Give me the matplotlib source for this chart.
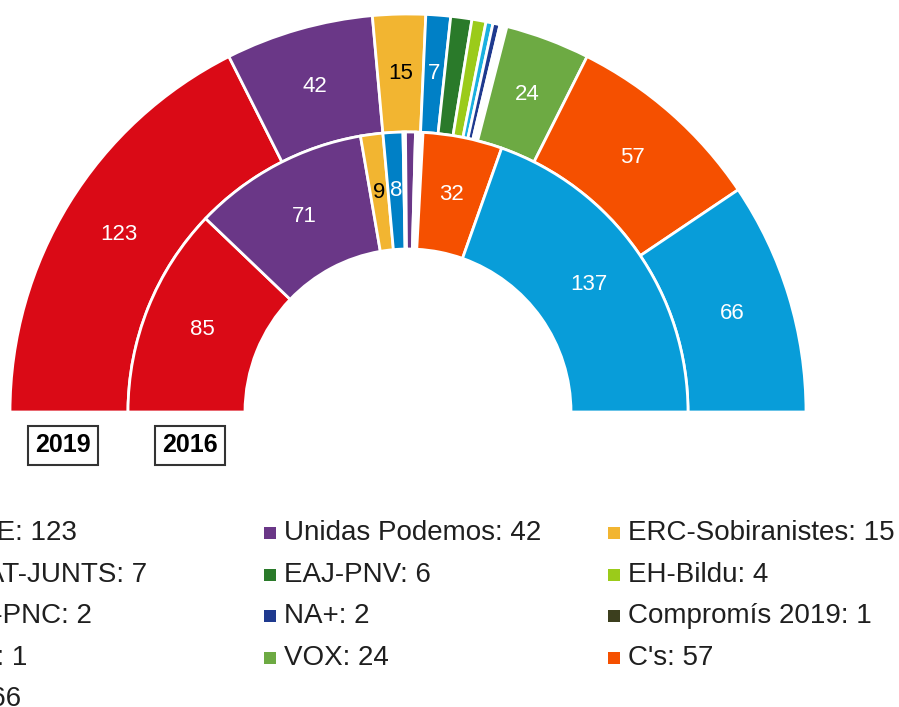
import numpy as np
import matplotlib
matplotlib.use('Agg')
import matplotlib.pyplot as plt
from matplotlib.patches import Rectangle

plt.rcParams['font.family'] = ['Liberation Sans', 'DejaVu Sans']

# 2019 results (outer ring + legend)
parties = ['PSOE', 'Unidas Podemos', 'ERC-Sobiranistes', 'JxCAT-JUNTS', 'EAJ-PNV',
           'EH-Bildu', 'CCa-PNC', 'NA+', 'Compromís 2019', 'PRC', 'VOX', "C's", 'PP']
seats_2019 = [123, 42, 15, 7, 6, 4, 2, 2, 1, 1, 24, 57, 66]
party_colors = ['#DA0A16', '#6A3787', '#F2B531', '#0080C6', '#2A7A2A',
                '#9BCB1A', '#1AB0E0', '#1F3A8F', '#3C3F1E', '#F2A0A0',
                '#6DAA43', '#F55000', '#089DD9']
# slices drawn without fill in the outer ring
hidden_2019 = ['Compromís 2019', 'PRC']

# 2016 results (inner ring)
seats_2016 = [85, 71, 9, 8, 1, 4, 3, 32, 137]
colors_2016 = ['#DA0A16', '#6A3787', '#F2B531', '#0080C6', 'white',
               '#6A3787', 'white', '#F55000', '#089DD9']
show_2016 = [True, True, True, True, False, False, False, True, True]

dark_label = ['#F2B531']  # fills that take a black label

fig = plt.figure(figsize=(8.99, 7.07), dpi=100)
ax = fig.add_axes([0, 0, 1, 1])

cx, cy = 408, 295
r_out, w_out = 398, 118
r_in, w_in = 280, 117
total = sum(seats_2019)


def ring(values, colors, radius, width, labels_on):
    wedges, _ = ax.pie(values + [total], colors=colors + ['white'], radius=radius,
                       center=(cx, cy), startangle=180, counterclock=False,
                       wedgeprops=dict(width=width, edgecolor='white', linewidth=2))
    wedges[-1].set_visible(False)
    rm = radius - width / 2
    for w, v, c, on in zip(wedges[:-1], values, colors, labels_on):
        if not on:
            continue
        a = np.deg2rad((w.theta1 + w.theta2) / 2)
        ax.text(cx + rm * np.cos(a), cy + rm * np.sin(a), str(v),
                ha='center', va='center', fontsize=16,
                color='black' if c in dark_label else 'white')


outer_fill = ['white' if p in hidden_2019 else c for p, c in zip(parties, party_colors)]
ring(seats_2019, outer_fill, r_out, w_out, [v >= 7 for v in seats_2019])
ring(seats_2016, colors_2016, r_in, w_in, show_2016)

ax.set_xlim(0, 899)
ax.set_ylim(0, 707)
ax.axis('off')

# year tags under the left ends of both rings
for year, x in [('2019', 63), ('2016', 190)]:
    ax.text(x, 707 - 445, year, ha='center', va='center', fontsize=18,
            fontweight='bold', color='black',
            bbox=dict(boxstyle='square,pad=0.3', facecolor='white',
                      edgecolor='#333333', linewidth=1.5))

# legend: 3 columns, filled row by row
col_x = [-82, 264, 608]
row_y = [533, 575, 616, 658, 699]
for i, (p, s, c) in enumerate(zip(parties, seats_2019, party_colors)):
    row, col = divmod(i, 3)
    x, y = col_x[col], 707 - row_y[row]
    ax.add_patch(Rectangle((x, y - 6), 12, 12, facecolor=c, edgecolor='none',
                           clip_on=False))
    ax.text(x + 20, y, f'{p}: {s}', ha='left', va='center', fontsize=20,
            color='#1f1f1f', clip_on=False)

fig.savefig('out.png', dpi=100)
